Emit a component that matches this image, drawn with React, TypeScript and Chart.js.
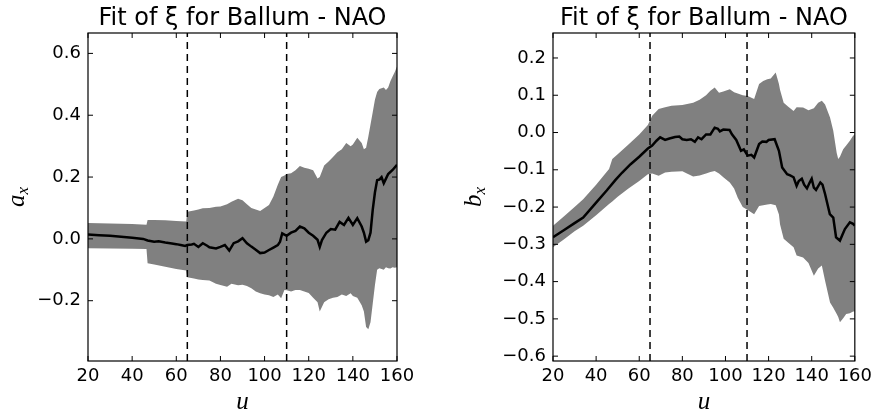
import React, { useEffect, useRef } from "react";
import { Chart, registerables } from "chart.js";

Chart.register(...registerables);

// ---------- shared ----------
const TITLE = "Fit of \u03BE for Ballum - NAO";
const X_LABEL = "u";
const X_TICKS = [20, 40, 60, 80, 100, 120, 140, 160];
const X_RANGE = [20, 160];
const VLINES = [65, 110];

// ---------- left panel: a_x ----------
const A_Y_TICKS = [-0.2, 0.0, 0.2, 0.4, 0.6];
const A_Y_RANGE = [-0.395, 0.666];
const A_BAND_U = [20, 30, 40, 46.5, 47, 50, 55, 60, 64.5, 65, 68, 70, 72, 75, 78, 80, 83, 85, 88, 90, 92, 94, 96, 98, 100, 102, 104, 106, 107.5, 109, 110, 112, 114, 116, 118, 120, 122, 124, 125, 127, 129, 131, 133, 135, 137, 139, 140, 142, 144, 145, 146, 147, 148, 149, 150, 151, 152, 154, 155, 156, 157, 158, 159, 160];
const A_BAND_HI = [0.051, 0.050, 0.048, 0.046, 0.061, 0.061, 0.060, 0.058, 0.056, 0.088, 0.092, 0.095, 0.099, 0.100, 0.104, 0.105, 0.112, 0.120, 0.130, 0.125, 0.112, 0.100, 0.095, 0.090, 0.100, 0.110, 0.137, 0.175, 0.200, 0.205, 0.210, 0.212, 0.222, 0.236, 0.230, 0.227, 0.222, 0.195, 0.200, 0.237, 0.250, 0.265, 0.280, 0.290, 0.310, 0.300, 0.305, 0.327, 0.310, 0.290, 0.295, 0.330, 0.370, 0.410, 0.450, 0.475, 0.485, 0.490, 0.482, 0.490, 0.510, 0.525, 0.540, 0.558];
const A_BAND_LO = [-0.030, -0.031, -0.032, -0.033, -0.079, -0.083, -0.090, -0.097, -0.102, -0.124, -0.128, -0.131, -0.133, -0.135, -0.145, -0.149, -0.155, -0.145, -0.150, -0.148, -0.152, -0.160, -0.170, -0.176, -0.180, -0.182, -0.188, -0.180, -0.192, -0.165, -0.166, -0.170, -0.165, -0.165, -0.170, -0.175, -0.190, -0.205, -0.235, -0.205, -0.195, -0.190, -0.188, -0.180, -0.185, -0.176, -0.185, -0.190, -0.215, -0.235, -0.285, -0.292, -0.270, -0.210, -0.150, -0.100, -0.095, -0.100, -0.092, -0.095, -0.096, -0.092, -0.093, -0.092];
const A_MEAN_U = [20, 25, 30, 35, 40, 45, 47, 50, 52, 55, 58, 60, 62, 64, 65, 67, 68, 70, 72, 74, 75, 78, 80, 82, 84, 86, 88, 90, 92, 94, 96, 98, 100, 102, 104, 106, 107, 108, 110, 112, 114, 116, 118, 120, 122, 124, 125, 126, 128, 130, 132, 134, 136, 138, 140, 142, 144, 145, 146, 147, 148, 149, 150, 151, 152, 153, 154, 155, 156, 158, 160];
const A_MEAN = [0.014, 0.012, 0.010, 0.007, 0.004, 0.000, -0.005, -0.009, -0.008, -0.012, -0.015, -0.017, -0.020, -0.023, -0.020, -0.018, -0.016, -0.026, -0.014, -0.022, -0.027, -0.031, -0.026, -0.020, -0.038, -0.014, -0.008, 0.002, -0.014, -0.025, -0.035, -0.046, -0.044, -0.036, -0.028, -0.020, -0.009, 0.018, 0.010, 0.020, 0.026, 0.040, 0.034, 0.020, 0.010, -0.003, -0.026, -0.004, 0.020, 0.032, 0.030, 0.055, 0.045, 0.068, 0.045, 0.067, 0.040, 0.020, -0.009, -0.004, 0.020, 0.094, 0.150, 0.190, 0.192, 0.200, 0.180, 0.195, 0.210, 0.223, 0.240];

// ---------- right panel: b_x ----------
const B_Y_TICKS = [-0.6, -0.5, -0.4, -0.3, -0.2, -0.1, 0.0, 0.1, 0.2];
const B_Y_RANGE = [-0.613, 0.267];
const B_BAND_U = [20, 25, 30, 34, 40, 46, 47.5, 50, 55, 60, 64, 66, 69, 72, 75, 80, 85, 88, 91, 93, 95, 97, 99, 102, 104, 105.7, 108, 110.3, 113.3, 115.6, 117.5, 119.4, 121, 123.3, 124.8, 125.3, 127, 129, 131.6, 133, 136, 138.5, 141, 143, 144.7, 146.2, 148.5, 150, 151.6, 152.3, 153.1, 154.6, 156, 157.7, 159.2, 160];
const B_BAND_HI = [-0.250, -0.225, -0.200, -0.179, -0.140, -0.098, -0.071, -0.058, -0.032, -0.005, 0.020, 0.045, 0.063, 0.068, 0.072, 0.074, 0.080, 0.088, 0.100, 0.112, 0.121, 0.107, 0.110, 0.116, 0.108, 0.105, 0.100, 0.098, 0.090, 0.130, 0.138, 0.143, 0.145, 0.161, 0.130, 0.115, 0.080, 0.070, 0.058, 0.068, 0.067, 0.060, 0.065, 0.080, 0.085, 0.075, 0.040, 0.005, -0.055, -0.071, -0.065, -0.045, -0.035, -0.022, -0.009, -0.005];
const B_BAND_LO = [-0.308, -0.287, -0.265, -0.250, -0.222, -0.192, -0.185, -0.172, -0.150, -0.130, -0.112, -0.110, -0.116, -0.107, -0.105, -0.104, -0.118, -0.115, -0.110, -0.106, -0.103, -0.110, -0.120, -0.134, -0.150, -0.175, -0.200, -0.208, -0.219, -0.197, -0.195, -0.193, -0.192, -0.195, -0.220, -0.246, -0.285, -0.295, -0.308, -0.330, -0.335, -0.350, -0.384, -0.365, -0.357, -0.398, -0.456, -0.470, -0.487, -0.495, -0.509, -0.498, -0.487, -0.485, -0.480, -0.480];
const B_MEAN_U = [20, 25, 30, 34, 40, 45, 49, 52, 56, 60, 64, 66, 68, 69.7, 72, 74, 76.6, 78.6, 80, 82, 84, 85.8, 87.3, 88.9, 91, 93, 95, 96.5, 97.4, 99, 101.9, 103, 105, 107.2, 108.5, 110.3, 112, 113.3, 115.6, 117.1, 119, 120, 122.8, 124.8, 126.3, 128.6, 130, 131.6, 133, 134, 135.4, 136.5, 137.8, 139, 140, 141, 142, 144, 145, 146.2, 148.4, 150, 151.3, 153.1, 154.2, 155.4, 157.7, 159.2, 160];
const B_MEAN = [-0.281, -0.262, -0.243, -0.228, -0.188, -0.155, -0.127, -0.108, -0.085, -0.065, -0.043, -0.035, -0.022, -0.013, -0.020, -0.016, -0.012, -0.011, -0.018, -0.020, -0.018, -0.025, -0.013, -0.018, -0.005, -0.005, 0.013, 0.010, 0.003, 0.008, 0.007, -0.005, -0.020, -0.049, -0.045, -0.062, -0.060, -0.067, -0.031, -0.024, -0.025, -0.020, -0.018, -0.049, -0.094, -0.112, -0.115, -0.120, -0.143, -0.130, -0.124, -0.140, -0.150, -0.135, -0.124, -0.148, -0.154, -0.134, -0.140, -0.165, -0.219, -0.228, -0.281, -0.290, -0.275, -0.259, -0.241, -0.245, -0.250];

const BAND_COLOR = "#808080";
const TICK_FONT = { family: "DejaVu Sans", size: 18 };
const LABEL_FONT = '"Liberation Serif", "DejaVu Serif", serif';

const fmtY = (v: number) => {
  const x = Math.abs(v) < 1e-9 ? 0 : v;
  return x.toFixed(1).replace("-", "\u2212");
};

const pts = (xs: number[], ys: number[]) => xs.map((x, i) => ({ x, y: ys[i] }));

const framePlugin = {
  id: "frame",
  afterDraw(chart: any) {
    const { ctx, chartArea: a, scales } = chart;
    ctx.save();
    ctx.strokeStyle = "#000";
    ctx.lineWidth = 1.2;
    ctx.strokeRect(a.left, a.top, a.right - a.left, a.bottom - a.top);
    const L = 5;
    ctx.lineWidth = 1;
    ctx.beginPath();
    scales.x.ticks.forEach((t: any) => {
      const x = scales.x.getPixelForValue(t.value);
      ctx.moveTo(x, a.bottom);
      ctx.lineTo(x, a.bottom - L);
      ctx.moveTo(x, a.top);
      ctx.lineTo(x, a.top + L);
    });
    scales.y.ticks.forEach((t: any) => {
      const y = scales.y.getPixelForValue(t.value);
      ctx.moveTo(a.left, y);
      ctx.lineTo(a.left + L, y);
      ctx.moveTo(a.right, y);
      ctx.lineTo(a.right - L, y);
    });
    ctx.stroke();
    ctx.restore();
  },
};

const yLabelPlugin = {
  id: "ylab",
  afterDraw(chart: any, _args: any, opts: any) {
    const { ctx, chartArea: a } = chart;
    ctx.save();
    const cy = (a.top + a.bottom) / 2;
    ctx.translate(opts.x, cy);
    ctx.rotate(-Math.PI / 2);
    ctx.fillStyle = "#000";
    ctx.textBaseline = "alphabetic";
    const big = `italic 25px ${LABEL_FONT}`;
    const small = `italic 17px ${LABEL_FONT}`;
    ctx.font = big;
    const w1 = ctx.measureText(opts.main).width;
    ctx.font = small;
    const w2 = ctx.measureText(opts.sub).width;
    const x0 = -(w1 + w2) / 2;
    ctx.font = big;
    ctx.fillText(opts.main, x0, 0);
    ctx.font = small;
    ctx.fillText(opts.sub, x0 + w1, 4);
    ctx.restore();
  },
};

type PanelProps = {
  left: number;
  width: number;
  plotLeft: number;
  plotRight: number;
  yTicks: number[];
  yRange: number[];
  bandU: number[];
  bandHi: number[];
  bandLo: number[];
  meanU: number[];
  mean: number[];
  yMain: string;
  ySub: string;
  yLabelX: number;
};

function Panel(p: PanelProps) {
  const ref = useRef<HTMLCanvasElement | null>(null);
  useEffect(() => {
    if (!ref.current) return;
    const vlineSets = VLINES.map((v) => ({
      data: [
        { x: v, y: p.yRange[0] },
        { x: v, y: p.yRange[1] },
      ],
      borderColor: "#000",
      borderWidth: 1.5,
      borderDash: [7, 5],
      pointRadius: 0,
      fill: false,
      order: 0,
    }));
    const chart = new Chart(ref.current, {
      type: "line",
      data: {
        datasets: [
          {
            data: pts(p.bandU, p.bandHi),
            borderWidth: 0,
            borderColor: "rgba(0,0,0,0)",
            backgroundColor: BAND_COLOR,
            pointRadius: 0,
            fill: "+1",
            order: 3,
          },
          {
            data: pts(p.bandU, p.bandLo),
            borderWidth: 0,
            borderColor: "rgba(0,0,0,0)",
            pointRadius: 0,
            fill: false,
            order: 4,
          },
          {
            data: pts(p.meanU, p.mean),
            borderColor: "#000",
            borderWidth: 2.5,
            pointRadius: 0,
            fill: false,
            order: 1,
          },
          ...vlineSets,
        ],
      } as any,
      options: {
        responsive: false,
        animation: false,
        events: [],
        layout: { padding: { left: 0, right: p.width - p.plotRight, top: 0, bottom: 0 } },
        plugins: {
          legend: { display: false },
          tooltip: { enabled: false },
          title: {
            display: true,
            text: TITLE,
            fullSize: false,
            color: "#000",
            font: { family: "DejaVu Sans", size: 24, weight: "normal", lineHeight: 1.2 },
            padding: { top: 4, bottom: 0.2 },
          },
          ylab: { main: p.yMain, sub: p.ySub, x: p.yLabelX },
        } as any,
        scales: {
          x: {
            type: "linear",
            min: X_RANGE[0],
            max: X_RANGE[1],
            afterBuildTicks: (s: any) => {
              s.ticks = X_TICKS.map((value) => ({ value }));
            },
            afterFit: (s: any) => {
              s.height = 56;
            },
            grid: { display: false, drawTicks: false },
            border: { display: false },
            ticks: {
              color: "#000",
              font: TICK_FONT,
              padding: 5,
              maxRotation: 0,
              autoSkip: false,
              callback: (v: any) => String(v),
            },
            title: {
              display: true,
              text: X_LABEL,
              color: "#000",
              font: { family: LABEL_FONT, size: 25, style: "italic", lineHeight: 1.2 },
              padding: { top: 0, bottom: 0 },
            },
          },
          y: {
            type: "linear",
            min: p.yRange[0],
            max: p.yRange[1],
            afterBuildTicks: (s: any) => {
              s.ticks = p.yTicks.map((value) => ({ value }));
            },
            afterFit: (s: any) => {
              s.width = p.plotLeft;
            },
            grid: { display: false, drawTicks: false },
            border: { display: false },
            ticks: {
              color: "#000",
              font: TICK_FONT,
              padding: 7,
              autoSkip: false,
              callback: (v: any) => fmtY(Number(v)),
            },
          },
        },
      } as any,
      plugins: [framePlugin, yLabelPlugin],
    });
    return () => chart.destroy();
  }, []);
  return (
    <div style={{ position: "absolute", left: p.left, top: 0, width: p.width, height: 417 }}>
      <canvas ref={ref} width={p.width} height={417} style={{ display: "block" }} />
    </div>
  );
}

export default function App() {
  return (
    <div
      style={{
        position: "fixed",
        left: 0,
        top: 0,
        width: 877,
        height: 417,
        background: "#fff",
        overflow: "hidden",
      }}
    >
      <Panel
        left={0}
        width={440}
        plotLeft={88}
        plotRight={397}
        yTicks={A_Y_TICKS}
        yRange={A_Y_RANGE}
        bandU={A_BAND_U}
        bandHi={A_BAND_HI}
        bandLo={A_BAND_LO}
        meanU={A_MEAN_U}
        mean={A_MEAN}
        yMain="a"
        ySub="x"
        yLabelX={24}
      />
      <Panel
        left={440}
        width={437}
        plotLeft={113}
        plotRight={418}
        yTicks={B_Y_TICKS}
        yRange={B_Y_RANGE}
        bandU={B_BAND_U}
        bandHi={B_BAND_HI}
        bandLo={B_BAND_LO}
        meanU={B_MEAN_U}
        mean={B_MEAN}
        yMain="b"
        ySub="x"
        yLabelX={41}
      />
    </div>
  );
}
